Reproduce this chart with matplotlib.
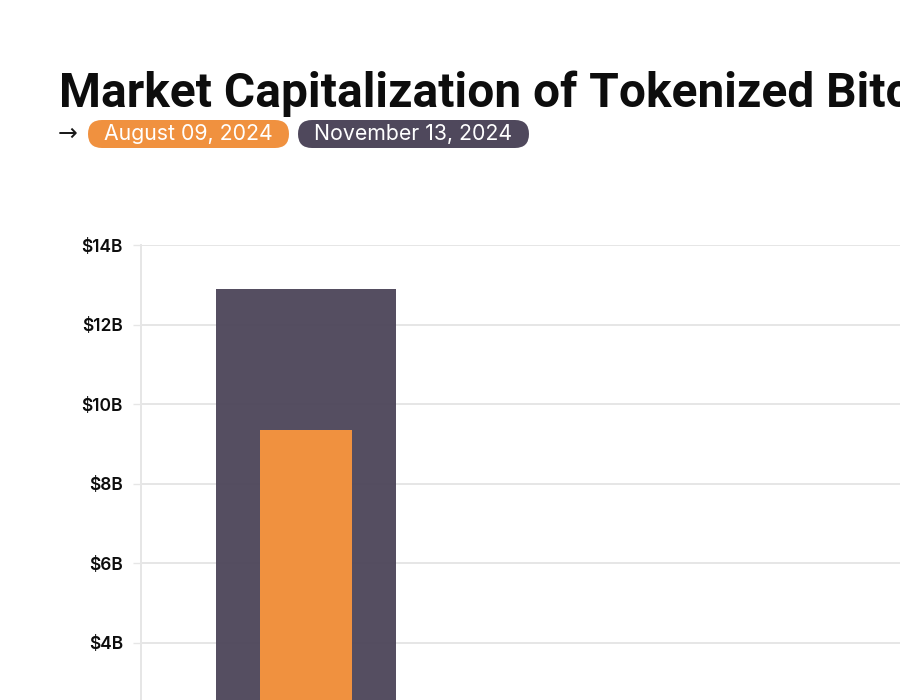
import matplotlib
matplotlib.use("Agg")
import matplotlib.pyplot as plt
from matplotlib.patches import FancyBboxPatch
from matplotlib.transforms import IdentityTransform
from matplotlib.ticker import FuncFormatter

# -----------------------------------------------------------------------
# Data
# -----------------------------------------------------------------------
categories = ["Tokenized Bitcoin"]
cap_nov_13 = [12.9]     # $B, November 13, 2024
cap_aug_09 = [9.35]     # $B, August 09, 2024
y_ticks = [4, 6, 8, 10, 12, 14]   # ticks that fall inside the visible crop
legend_labels = ["August 09, 2024", "November 13, 2024"]

ORANGE = "#f0913f"
DARK = "#4f485c"
GRID = "#e6e6e6"

plt.rcParams["font.family"] = ["Inter", "DejaVu Sans"]

fig = plt.figure(figsize=(9, 7), dpi=100)
fig.patch.set_facecolor("white")

# axes deliberately runs off the right and bottom edge, like the reference crop
ax = fig.add_axes([141 / 900, -0.1457, 1.0, 0.7957])
x = list(range(len(categories)))
ax.bar(x, cap_nov_13, width=0.5, color=DARK, alpha=0.97, zorder=2)
ax.bar(x, cap_aug_09, width=0.256, color=ORANGE, zorder=3)

ax.set_xlim(-0.458, 2.042)
ax.set_ylim(0, 14)
ax.set_yticks(y_ticks)
ax.yaxis.set_major_formatter(FuncFormatter(lambda v, _: f"${v:.0f}B"))
ax.set_xticks([])
ax.grid(axis="y", color=GRID, lw=1.4, zorder=1)
ax.set_axisbelow(True)
for s in ["top", "right", "bottom"]:
    ax.spines[s].set_visible(False)
ax.spines["left"].set_color(GRID)
ax.spines["left"].set_linewidth(1.4)
ax.tick_params(axis="y", length=6, width=1.0, color=GRID, pad=7,
               labelsize=12.5, labelcolor="#0d0d0d")
for lab in ax.get_yticklabels():
    lab.set_fontweight("semibold")

# -----------------------------------------------------------------------
# Title + date pills
# -----------------------------------------------------------------------
fig.text(59 / 900, 1 - 107 / 700, "Market Capitalization of Tokenized Bitcoin",
         fontsize=34.5, fontweight="bold", color="#0d0d0d", va="baseline",
         family=["Roboto", "DejaVu Sans"])
fig.text(58 / 900, 1 - 134 / 700, "→", fontsize=17, color="#1a1a1a", va="center",
         family=["DejaVu Sans"])

pills = [(88, 289, ORANGE), (298, 529, DARK)]
for (x0, x1, col), label in zip(pills, legend_labels):
    y0, y1 = 120, 148
    r = (y1 - y0) / 2
    fig.add_artist(FancyBboxPatch(
        (x0, 700 - y1), x1 - x0, y1 - y0,
        boxstyle=f"round,pad=0,rounding_size={r}",
        transform=IdentityTransform(), fc=col, ec="none"))
    fig.text((x0 + x1) / 2 / 900, 1 - 134.5 / 700, label, fontsize=15.3,
             color="white", ha="center", va="center")

fig.savefig("out.png", dpi=100)
